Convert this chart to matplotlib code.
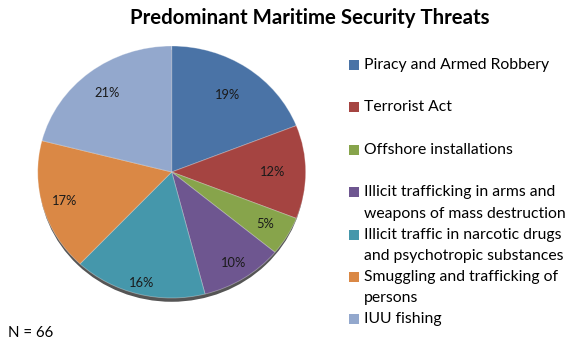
import numpy as np
import matplotlib.pyplot as plt
from matplotlib.patches import Ellipse, Rectangle

threats = [
    "Piracy and Armed Robbery",
    "Terrorist Act",
    "Offshore installations",
    "Illicit trafficking in arms and\nweapons of mass destruction",
    "Illicit traffic in narcotic drugs\nand psychotropic substances",
    "Smuggling and trafficking of\npersons",
    "IUU fishing",
]
shares = [19, 12, 5, 10, 16, 17, 21]
colors = ["#4a73a6", "#a54441", "#87a44b", "#6e5690", "#4597ab", "#da8845", "#93a8cd"]
pct_dist = [0.74, 0.75, 0.81, 0.86, 0.91, 0.83, 0.79]
sample_size = 66

W, H = 574, 344
plt.rcParams['font.family'] = ['Lato', 'DejaVu Sans']

fig = plt.figure(figsize=(W / 100, H / 100), dpi=100)
fig.patch.set_facecolor('white')

def fx(x):
    return x / W

def fy(y):
    return 1 - y / H

# pie area in pixels (slightly squashed like the excel original)
cx, cy, rx, ry = 171.7, 172.0, 134.0, 126.0
ax = fig.add_axes([fx(cx - rx), fy(cy + ry), 2 * rx / W, 2 * ry / H])

wedges, texts, autotexts = ax.pie(
    shares, colors=colors, startangle=90, counterclock=False,
    autopct=lambda p: f"{p:.0f}%", radius=1.0,
    wedgeprops=dict(edgecolor=(1, 1, 1, 0.35), linewidth=0.6),
    textprops=dict(fontsize=9.3, color='#1a1a1a'))

for w, t, d in zip(wedges, autotexts, pct_dist):
    ang = np.deg2rad((w.theta1 + w.theta2) / 2)
    t.set_position((d * np.cos(ang), d * np.sin(ang)))

# dark rim under the bottom of the pie
shadow = Ellipse((0.0, -0.03), 1.985, 2.0, facecolor='#2a2a2a', alpha=0.8,
                 zorder=0, clip_on=False)
ax.add_patch(shadow)
for w in wedges:
    w.set_zorder(1)

ax.set_aspect('auto')
ax.set_xlim(-1, 1)
ax.set_ylim(-1, 1)
ax.axis('off')

fig.text(fx(310), fy(18), "Predominant Maritime Security Threats",
         ha='center', va='center', fontsize=14.7, fontweight='bold', color='black')

# legend drawn by hand: square aligned with the first line of each entry
y0, step, line_step = 65, 42.4, 21.4
for i, (lab, c) in enumerate(zip(threats, colors)):
    y = y0 + i * step
    fig.patches.append(Rectangle((fx(349), fy(y + 5)), 10 / W, 10 / H,
                                 transform=fig.transFigure, facecolor=c,
                                 edgecolor='none'))
    for j, line in enumerate(lab.split("\n")):
        fig.text(fx(364), fy(y + j * line_step), line, ha='left', va='center',
                 fontsize=11.3, color='black')

fig.text(fx(8), fy(333), f"N = {sample_size}", ha='left', va='center',
         fontsize=10.8, color='black')

fig.savefig("out.png", dpi=100)
